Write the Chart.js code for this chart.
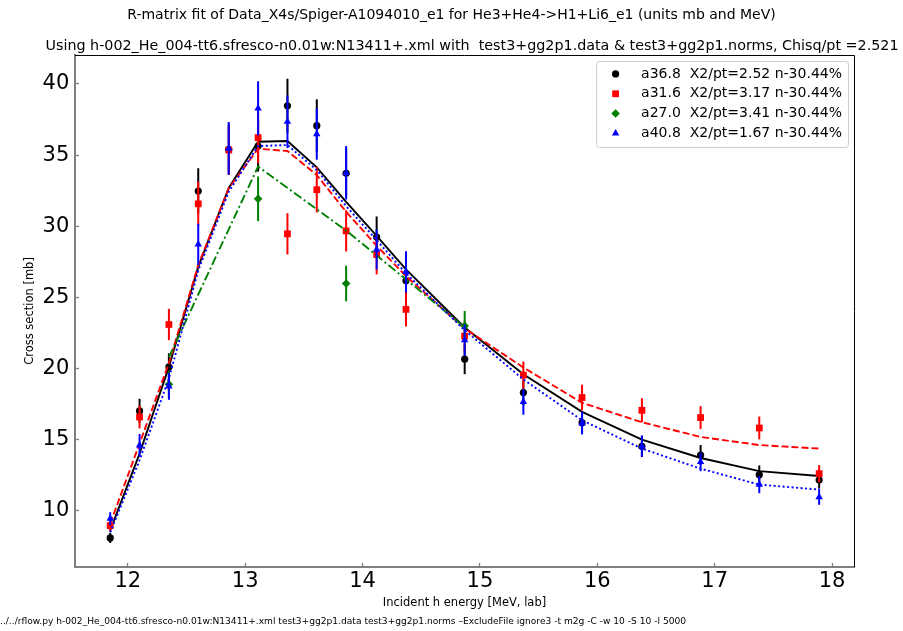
<!DOCTYPE html>
<html>
<head>
<meta charset="utf-8">
<script src="https://cdn.jsdelivr.net/npm/chart.js@4.4.0/dist/chart.umd.min.js"></script>
<style>
    html, body { margin: 0; padding: 0; background: #fff; }
    #wrap { width: 903px; height: 631px; }
</style>
</head>
<body>
<div id="wrap"><canvas id="fitChart" width="903" height="631"></canvas></div>
<script>
// Incident h energies [MeV, lab]
const energies = [11.85, 12.1, 12.35, 12.6, 12.86, 13.11, 13.36, 13.61, 13.86, 14.12,
                  14.37, 14.87, 15.37, 15.87, 16.38, 16.88, 17.38, 17.89];

// a36.8 : data, errors, R-matrix fit
const a368Data = [8.1, 17.03, 20.12, 32.48, 35.4, 35.64, 38.47, 37.07, 33.72, 29.24,
                  26.17, 20.66, 18.32, 16.2, 14.54, 13.93, 12.55, 12.17];
const a368Err  = [0.35, 0.85, 0.95, 1.6, 1.75, 1.8, 1.9, 1.85, 1.7, 1.45,
                  1.3, 1.05, 0.9, 0.8, 0.75, 0.7, 0.65, 0.6];
const a368Fit  = [8.63, 14.03, 20.12, 27.15, 32.7, 35.94, 35.99, 34.14, 31.72, 29.33,
                  26.97, 22.89, 19.6, 16.96, 15.01, 13.72, 12.8, 12.45];

// a31.6
const a316Data = [8.97, 16.6, 23.1, 31.58, 35.36, 36.23, 29.47, 32.57, 29.68, 28.02,
                  24.16, 22.28, 19.54, 17.97, 17.07, 16.56, 15.83, 12.62];
const a316Err  = [0.45, 0.8, 1.1, 1.55, 1.75, 1.8, 1.45, 1.6, 1.45, 1.4,
                  1.2, 1.1, 0.95, 0.9, 0.85, 0.8, 0.8, 0.6];
const a316Fit  = [9.1, 14.73, 20.38, 27.27, 32.67, 35.45, 35.29, 33.6, 31.02, 28.63,
                  26.5, 22.82, 20.08, 17.6, 16.23, 15.2, 14.63, 14.38];

// a27.0 (measured at four energies only)
const a270Energies = [12.35, 13.11, 13.86, 14.87];
const a270Data = [18.9, 31.93, 25.98, 23.0];
const a270Err  = [0.95, 1.57, 1.25, 1.05];
const a270Fit  = [20.8, 34.2, 29.7, 22.9];

// a40.8
const a408Data = [9.46, 14.61, 18.76, 28.73, 35.48, 38.29, 37.35, 36.48, 33.76, 28.37,
                  26.8, 22.0, 17.66, 16.18, 14.54, 13.44, 11.85, 10.98];
const a408Err  = [0.45, 0.8, 0.95, 1.45, 1.85, 1.9, 1.85, 1.8, 1.88, 1.4,
                  1.45, 1.1, 0.9, 0.8, 0.75, 0.65, 0.6, 0.55];
const a408Fit  = [8.5, 13.56, 19.3, 26.9, 32.43, 35.64, 35.71, 33.95, 31.42, 29.03,
                  26.69, 22.7, 19.24, 16.37, 14.38, 12.97, 11.85, 11.5];

const seriesLabels = [
    'a36.8  X2/pt=2.52 n-30.44%',
    'a31.6  X2/pt=3.17 n-30.44%',
    'a27.0  X2/pt=3.41 n-30.44%',
    'a40.8  X2/pt=1.67 n-30.44%'
];

const xTicks = [12, 13, 14, 15, 16, 17, 18];
const yTicks = [10, 15, 20, 25, 30, 35, 40];

const titleText = 'R-matrix fit of Data_X4s/Spiger-A1094010_e1 for He3+He4->H1+Li6_e1 (units mb and MeV)';
const subtitleText = 'Using h-002_He_004-tt6.sfresco-n0.01w:N13411+.xml with  test3+gg2p1.data & test3+gg2p1.norms, Chisq/pt =2.521';
const commandText = '../../rflow.py h-002_He_004-tt6.sfresco-n0.01w:N13411+.xml test3+gg2p1.data test3+gg2p1.norms \u2013ExcludeFile ignore3 -t m2g -C -w 10 -S 10 -l 5000';

Chart.defaults.font.family = '"DejaVu Sans", sans-serif';
Chart.defaults.color = '#000';

function toPoints(xs, ys) {
    return xs.map((x, i) => ({ x: x, y: ys[i] }));
}

function dataSet(label, xs, ys, errs, color, style, radius, order) {
    return {
        label: label,
        data: toPoints(xs, ys),
        err: errs,
        showLine: false,
        pointStyle: style,
        pointRadius: radius,
        backgroundColor: color,
        borderColor: color,
        borderWidth: 0,
        order: order
    };
}

function fitSet(xs, ys, color, dash, order) {
    return {
        label: '',
        data: toPoints(xs, ys),
        showLine: true,
        pointRadius: 0,
        borderColor: color,
        backgroundColor: color,
        borderWidth: 1.9,
        borderDash: dash,
        fill: false,
        tension: 0,
        order: order
    };
}

// vertical error bars, drawn just under each data set's markers
const errorBars = {
    id: 'errorBars',
    beforeDatasetDraw(chart, args) {
        const ds = chart.data.datasets[args.index];
        if (!ds.err) return;
        const { ctx, scales: { x, y } } = chart;
        ctx.save();
        ctx.strokeStyle = ds.borderColor;
        ctx.lineWidth = 2;
        ds.data.forEach((p, i) => {
            const px = x.getPixelForValue(p.x);
            ctx.beginPath();
            ctx.moveTo(px, y.getPixelForValue(p.y - ds.err[i]));
            ctx.lineTo(px, y.getPixelForValue(p.y + ds.err[i]));
            ctx.stroke();
        });
        ctx.restore();
    }
};

// the axes title sits over the axes, a little right of the figure title
const subtitleShift = {
    id: 'subtitleShift',
    afterLayout(chart) {
        const box = chart.boxes.find(b => b.options && b.options.text === subtitleText);
        if (box) box.left = 41;
    }
};

// top and right spines of the axes box
const frame = {
    id: 'frame',
    afterDraw(chart) {
        const { ctx, chartArea: a } = chart;
        const t = Math.round(a.top) + 0.5;
        const r = Math.round(a.right) + 0.5;
        ctx.save();
        ctx.strokeStyle = '#000';
        ctx.lineWidth = 1;
        ctx.beginPath();
        ctx.moveTo(a.left, t);
        ctx.lineTo(r, t);
        ctx.lineTo(r, a.bottom);
        ctx.stroke();
        ctx.restore();
    }
};

// boxed legend in the upper right corner, markers only
const legendBox = {
    id: 'legendBox',
    afterDraw(chart) {
        const { ctx, chartArea } = chart;
        const sets = seriesLabels.map(l => chart.data.datasets.find(d => d.label === l));
        ctx.save();
        ctx.font = '14px "DejaVu Sans"';
        const textW = Math.max(...sets.map(d => ctx.measureText(d.label).width));
        const rowH = 19.8;
        const w = textW + 51;
        const h = 86;
        const x0 = chartArea.right - 6 - w;
        const y0 = chartArea.top + 6;
        ctx.beginPath();
        ctx.roundRect(x0 + 0.5, y0 + 0.5, w, h, 3);
        ctx.fillStyle = 'rgba(255,255,255,0.8)';
        ctx.fill();
        ctx.strokeStyle = '#cccccc';
        ctx.lineWidth = 1;
        ctx.stroke();
        sets.forEach((d, i) => {
            const cy = y0 + 13 + i * rowH;
            ctx.fillStyle = d.backgroundColor;
            ctx.strokeStyle = d.borderColor;
            Chart.helpers.drawPoint(ctx, { pointStyle: d.pointStyle, radius: d.pointRadius, borderWidth: 0, rotation: 0 }, x0 + 19.5, cy);
            ctx.fillStyle = '#000';
            ctx.textBaseline = 'middle';
            ctx.textAlign = 'left';
            ctx.fillText(d.label, x0 + 45, cy);
        });
        ctx.restore();
    }
};

// command line printed along the bottom edge
const commandLine = {
    id: 'commandLine',
    afterDraw(chart) {
        const ctx = chart.ctx;
        ctx.save();
        ctx.font = '9.1px "DejaVu Sans"';
        ctx.fillStyle = '#000';
        ctx.textBaseline = 'middle';
        ctx.fillText(commandText, 0, 622);
        ctx.restore();
    }
};

const tickFont = { size: 21, lineHeight: 1 };

const config = {
    type: 'scatter',
    data: {
        datasets: [
            fitSet(energies, a408Fit, '#0000ff', [2, 2.5], 0),
            dataSet(seriesLabels[3], energies, a408Data, a408Err, '#0000ff', 'triangle', 4.3, 1),
            fitSet(a270Energies, a270Fit, '#008000', [9, 3, 2, 3], 2),
            dataSet(seriesLabels[2], a270Energies, a270Data, a270Err, '#008000', 'rectRot', 4.3, 3),
            fitSet(energies, a316Fit, '#ff0000', [7, 3], 4),
            dataSet(seriesLabels[1], energies, a316Data, a316Err, '#ff0000', 'rect', 4.8, 5),
            fitSet(energies, a368Fit, '#000000', [], 6),
            dataSet(seriesLabels[0], energies, a368Data, a368Err, '#000000', 'circle', 3.6, 7)
        ]
    },
    options: {
        responsive: false,
        animation: false,
        events: [],
        layout: { padding: 0 },
        plugins: {
            legend: { display: false },
            tooltip: { enabled: false },
            title: {
                display: true,
                text: titleText,
                font: { size: 14, weight: 'normal' },
                color: '#000',
                padding: { top: 7.1, bottom: 13.5 }
            },
            subtitle: {
                display: true,
                text: subtitleText,
                font: { size: 14.3, weight: 'normal' },
                color: '#000',
                padding: { top: 0, bottom: 0.4 }
            }
        },
        scales: {
            x: {
                type: 'linear',
                min: 11.55,
                max: 18.187,
                afterBuildTicks: s => { s.ticks = xTicks.map(v => ({ value: v })); },
                afterFit: s => { s.height = 64; },
                ticks: { font: tickFont, padding: 8.5, maxRotation: 0, color: '#000' },
                grid: { drawOnChartArea: false, drawTicks: true, tickLength: -4, tickColor: '#7f7f7f', tickWidth: 1.3 },
                border: { display: true, color: '#7f7f7f', width: 2 },
                title: {
                    display: true,
                    text: 'Incident h energy [MeV, lab]',
                    font: { size: 11.5 },
                    padding: { top: 0, bottom: 21 }
                }
            },
            y: {
                type: 'linear',
                min: 6.06,
                max: 42.04,
                afterBuildTicks: s => { s.ticks = yTicks.map(v => ({ value: v })); },
                afterFit: s => { s.width = 75; },
                ticks: { font: tickFont, padding: 9.7, color: '#000' },
                grid: { drawOnChartArea: false, drawTicks: true, tickLength: -4, tickColor: '#7f7f7f', tickWidth: 1.3 },
                border: { display: true, color: '#7f7f7f', width: 2 },
                title: {
                    display: true,
                    text: 'Cross section [mb]',
                    font: { size: 11.5 },
                    padding: { top: 23, bottom: 0 }
                }
            },
            // empty right-hand axis, only keeps the margin beside the frame
            yRight: {
                type: 'linear',
                position: 'right',
                min: 0,
                max: 1,
                ticks: { display: false },
                grid: { display: false, drawTicks: false },
                border: { display: false },
                afterFit: s => { s.width = 49; }
            }
        }
    },
    plugins: [errorBars, subtitleShift, frame, legendBox, commandLine]
};

const fitChart = new Chart(document.getElementById('fitChart').getContext('2d'), config);
</script>
</body>
</html>
